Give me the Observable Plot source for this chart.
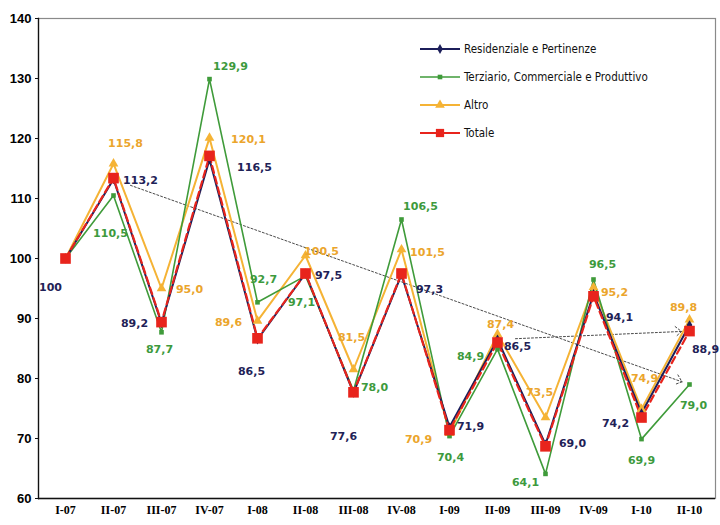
<!DOCTYPE html>
<html>
<head>
<meta charset="utf-8">
<script src="https://cdn.jsdelivr.net/npm/d3@7"></script>
<script src="https://cdn.jsdelivr.net/npm/@observablehq/plot@0.6"></script>
<style>
  html, body { margin: 0; padding: 0; background: #fff; }
  #wrap { position: relative; width: 720px; height: 525px; }
  #legend { position: absolute; left: 420px; top: 35px; font-family: "DejaVu Sans Condensed", "DejaVu Sans", sans-serif; font-size: 11.5px; color: #111; }
  #legend .row { display: flex; align-items: center; height: 28px; }
  #legend svg { margin-right: 2px; }
</style>
</head>
<body>
<div id="wrap"><div id="chart"></div><div id="legend"></div></div>
<script>
// ---- data ----
const categories = ["I-07","II-07","III-07","IV-07","I-08","II-08","III-08","IV-08","I-09","II-09","III-09","IV-09","I-10","II-10"];
const residenziale = [100, 113.2, 89.2, 116.5, 86.5, 97.5, 77.6, 97.3, 71.9, 86.5, 69.0, 94.1, 74.2, 88.9];
const terziario    = [100, 110.5, 87.7, 129.9, 92.7, 97.1, 78.0, 106.5, 70.4, 84.9, 64.1, 96.5, 69.9, 79.0];
const altro        = [100, 115.8, 95.0, 120.1, 89.6, 100.5, 81.5, 101.5, 70.9, 87.4, 73.5, 95.2, 74.9, 89.8];
const totale       = [100, 113.4, 89.4, 117.1, 86.7, 97.5, 77.7, 97.5, 71.4, 86.0, 68.7, 93.7, 73.5, 87.9];
const yTicks = [60, 70, 80, 90, 100, 110, 120, 130, 140];
const seriesNames = ["Residenziale e Pertinenze", "Terziario, Commerciale e Produttivo", "Altro", "Totale"];

// ---- label placement (offsets in px, not data) ----
const labelOffsets = {
  residenziale: [[-15,29],[27,1],[-27,0],[45,8],[-6,32],[23,2],[-10,44],[28,15],[21,-1],[20,7],[27,-1],[26,24],[-26,10],[16,24]],
  terziario:    [null,[-3,38],[-2,17],[21,-13],[6,-23],[-4,27],[21,-3],[19,-13],[1,21],[-27,7],[-20,9],[9,-15],[0,21],[4,21]],
  altro:        [null,[12,-20],[28,1],[39,2],[-29,2],[16,-4],[-2,-32],[26,3],[-31,6],[3,-10],[-6,-25],[21,5],[3,-31],[-6,-12]]
};

const styles = {
  residenziale: {color: "#1c1e5a", label: "#1f2257", symbol: "diamond", r: 3, width: 2},
  terziario:    {color: "#3f9b3a", label: "#3d9a3d", symbol: "square", r: 2.6, width: 1.6},
  altro:        {color: "#f5b335", label: "#eba52c", symbol: "triangle", r: 3.6, width: 2},
  totale:       {color: "#e8241c", label: "#e8241c", symbol: "square", r: 6, width: 2.2}
};

const seriesData = {residenziale, terziario, altro, totale};
const rows = k => categories.map((c, i) => ({cat: c, v: seriesData[k][i], i}));
const fmt = v => v === 100 ? "100" : v.toFixed(1).replace(".", ",");

function labelMarks(k) {
  const offs = labelOffsets[k];
  return rows(k).filter(d => offs[d.i]).map(d =>
    Plot.text([d], {
      x: "cat", y: "v", text: r => fmt(r.v),
      dx: offs[d.i][0], dy: offs[d.i][1],
      fill: styles[k].label, fontWeight: "bold", fontSize: 11,
      fontFamily: "DejaVu Sans, sans-serif"
    })
  );
}

const arrowStyle = {
  x1: "x1", y1: "y1", x2: "x2", y2: "y2", insetStart: 18, insetEnd: 8,
  stroke: "#4a4a4a", strokeWidth: 1, strokeDasharray: "2,2", headLength: 12, headAngle: 80
};

const lineOrder = ["altro", "terziario", "residenziale"];
const marks = [
  Plot.frame({stroke: "#8a8a8a", strokeWidth: 1.2}),
  Plot.frame({anchor: "left", stroke: "#111", strokeWidth: 1.3}),
  Plot.ruleY([yTicks[0]], {stroke: "#111", strokeWidth: 1.3}),
  Plot.axisY({ticks: yTicks, tickSize: 3, tickPadding: 4, fontSize: 13, fontWeight: "bold",
              fontFamily: "Liberation Sans, sans-serif", stroke: "#111"}),
  Plot.axisX({tickSize: 0, tickPadding: 7, fontSize: 12, fontWeight: "bold",
              fontFamily: "Liberation Serif, serif"}),
  // trend arrows
  Plot.arrow([{x1: categories[1], y1: residenziale[1], x2: categories[13], y2: terziario[13]}], arrowStyle),
  Plot.arrow([{x1: categories[9], y1: residenziale[9], x2: categories[13], y2: totale[13]}], arrowStyle),
  ...lineOrder.map(k => Plot.line(rows(k), {x: "cat", y: "v", stroke: styles[k].color, strokeWidth: styles[k].width})),
  Plot.line(rows("totale"), {x: "cat", y: "v", stroke: styles.totale.color, strokeWidth: styles.totale.width, strokeDasharray: "7,4"}),
  ...lineOrder.map(k => Plot.dot(rows(k), {x: "cat", y: "v", symbol: styles[k].symbol, r: styles[k].r, fill: styles[k].color, stroke: "none"})),
  Plot.dot(rows("totale"), {x: "cat", y: "v", symbol: "square", r: styles.totale.r, fill: styles.totale.color, stroke: "none"}),
  ...labelMarks("altro"), ...labelMarks("terziario"), ...labelMarks("residenziale")
];

const chart = Plot.plot({
  width: 720, height: 525,
  marginLeft: 38, marginRight: 5, marginTop: 18, marginBottom: 27,
  style: {background: "#fff", overflow: "visible"},
  x: {type: "point", domain: categories, padding: 0.5, label: null, axis: null},
  y: {domain: [60, 140], label: null, axis: null},
  marks
});
document.getElementById("chart").appendChild(chart);

// ---- legend ----
const legendKeys = ["residenziale", "terziario", "altro", "totale"];
const lg = d3.select("#legend");
legendKeys.forEach((k, i) => {
  const row = lg.append("div").attr("class", "row");
  const s = row.append("svg").attr("width", 42).attr("height", 14);
  s.append("line").attr("x1", 0).attr("x2", 40).attr("y1", 7).attr("y2", 7)
    .attr("stroke", styles[k].color).attr("stroke-width", styles[k].width);
  const sym = {diamond: d3.symbolDiamond, square: d3.symbolSquare, triangle: d3.symbolTriangle}[styles[k].symbol];
  s.append("path").attr("transform", "translate(20,7)")
    .attr("d", d3.symbol(sym, styles[k].r * styles[k].r * Math.PI * (k === "totale" ? 0.6 : 1))())
    .attr("fill", styles[k].color);
  row.append("span").text(seriesNames[i]);
});
</script>
</body>
</html>
